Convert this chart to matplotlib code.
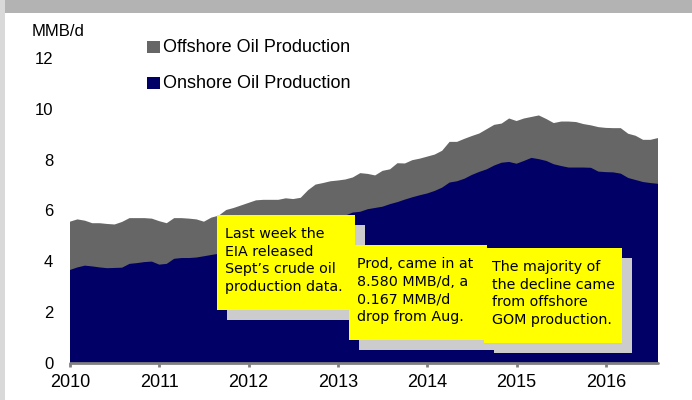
import numpy as np
import matplotlib
matplotlib.use("Agg")
import matplotlib.pyplot as plt
from matplotlib.patches import Rectangle

# Monthly data, Jan 2010 .. Aug 2016 (MMB/d)
start_year = 2010
total = [5.56, 5.65, 5.60, 5.50, 5.50, 5.47, 5.45, 5.55, 5.70, 5.70, 5.70, 5.68,
         5.58, 5.50, 5.70, 5.70, 5.68, 5.65, 5.56, 5.72, 5.80, 6.02, 6.10, 6.20,
         6.30, 6.40, 6.42, 6.42, 6.42, 6.48, 6.45, 6.50, 6.80, 7.02, 7.08, 7.15,
         7.18, 7.22, 7.30, 7.47, 7.44, 7.38, 7.56, 7.62, 7.86, 7.85, 7.98, 8.04,
         8.12, 8.20, 8.35, 8.70, 8.70, 8.82, 8.93, 9.03, 9.20, 9.37, 9.42, 9.62,
         9.52, 9.62, 9.68, 9.74, 9.60, 9.44, 9.50, 9.50, 9.48, 9.40, 9.35, 9.28,
         9.25, 9.24, 9.24, 9.02, 8.94, 8.78, 8.78, 8.85]
onshore = [3.66, 3.76, 3.83, 3.80, 3.76, 3.73, 3.74, 3.75, 3.90, 3.93, 3.97, 3.99,
           3.87, 3.90, 4.10, 4.13, 4.13, 4.15, 4.20, 4.25, 4.30, 4.40, 4.50, 4.60,
           4.70, 4.78, 4.85, 4.92, 5.00, 5.10, 5.18, 5.25, 5.35, 5.45, 5.55, 5.62,
           5.70, 5.80, 5.92, 5.95, 6.05, 6.10, 6.15, 6.25, 6.33, 6.43, 6.52, 6.60,
           6.67, 6.77, 6.90, 7.10, 7.15, 7.25, 7.40, 7.52, 7.62, 7.77, 7.88, 7.91,
           7.84, 7.95, 8.07, 8.02, 7.95, 7.82, 7.75, 7.69, 7.69, 7.69, 7.68, 7.53,
           7.51, 7.50, 7.45, 7.28, 7.20, 7.12, 7.08, 7.05]
year_ticks = [2010, 2011, 2012, 2013, 2014, 2015, 2016]
y_ticks = [0, 2, 4, 6, 8, 10, 12]
legend_labels = ["Offshore Oil Production", "Onshore Oil Production"]
notes = ["Last week the\nEIA released\nSept\u2019s crude oil\nproduction data.",
         "Prod, came in at\n8.580 MMB/d, a\n0.167 MMB/d\ndrop from Aug.",
         "The majority of\nthe decline came\nfrom offshore\nGOM production."]

W, H = 692, 400
NAVY = "#000066"
GRAY = "#666666"

plt.rcParams['font.family'] = ['Liberation Sans', 'DejaVu Sans']

fig = plt.figure(figsize=(W / 100, H / 100), dpi=100)
fig.patch.set_facecolor("white")

# frame decorations
fig.add_artist(Rectangle((0, 1 - 13 / H), 1, 13 / H, transform=fig.transFigure,
                         facecolor="#b3b3b3", edgecolor="none", zorder=0))
fig.add_artist(Rectangle((0, 0), 5 / W, 1, transform=fig.transFigure,
                         facecolor="#d9d9d9", edgecolor="none", zorder=0))

x = start_year + np.arange(len(total)) / 12.0
x_end = x[-1]

ax_left, ax_right = 70, 658
ax_bottom, ax_top = 363, 58
ax = fig.add_axes([ax_left / W, 1 - ax_bottom / H, (ax_right - ax_left) / W,
                   (ax_bottom - ax_top) / H])
ax.set_xlim(start_year, x_end)
ax.set_ylim(0, 12)

ax.fill_between(x, 0, total, facecolor=GRAY, edgecolor="none", linewidth=0)
ax.fill_between(x, 0, onshore, facecolor=NAVY, edgecolor="none", linewidth=0)

for s in ["top", "right", "left"]:
    ax.spines[s].set_visible(False)
ax.spines["bottom"].set_color("#808080")
ax.spines["bottom"].set_linewidth(2)
ax.spines["bottom"].set_capstyle("round")

ax.set_xticks(year_ticks)
ax.set_xticklabels([str(y) for y in year_ticks], fontsize=13)
ax.set_yticks(y_ticks)
ax.set_yticklabels([str(v) for v in y_ticks], fontsize=12)
ax.tick_params(axis="x", direction="out", length=3, width=2, color="#808080", pad=5)
ax.tick_params(axis="y", length=0, pad=12)
ax.set_facecolor("none")

fig.text(32 / W, 1 - 32 / H, "MMB/d", fontsize=12, ha="left", va="center")

# legend
for (lbl, col, yc) in zip(legend_labels, [GRAY, NAVY], [47, 83]):
    fig.add_artist(Rectangle((147 / W, 1 - (yc + 6) / H), 13 / W, 12 / H,
                             transform=fig.transFigure, facecolor=col,
                             edgecolor="none", zorder=3))
    fig.text(163 / W, 1 - yc / H, lbl, fontsize=13, ha="left", va="center")

# annotation boxes: (left, top, right, bottom) in pixels
boxes = [(217, 215, 355, 310), (349, 245, 487, 340), (484, 248, 622, 343)]
for (l, t, r, b), note in zip(boxes, notes):
    fig.add_artist(Rectangle(((l + 10) / W, 1 - (b + 10) / H), (r - l) / W, (b - t) / H,
                             transform=fig.transFigure, facecolor="#cccccc",
                             edgecolor="none", zorder=4))
    fig.add_artist(Rectangle((l / W, 1 - b / H), (r - l) / W, (b - t) / H,
                             transform=fig.transFigure, facecolor="#ffff00",
                             edgecolor="none", zorder=4))
    fig.text((l + 8) / W, 1 - ((t + b) / 2 - 2) / H, note, fontsize=10.3,
             family="DejaVu Sans", ha="left", va="center", linespacing=1.35,
             zorder=5)

fig.savefig("out.png", dpi=100)
